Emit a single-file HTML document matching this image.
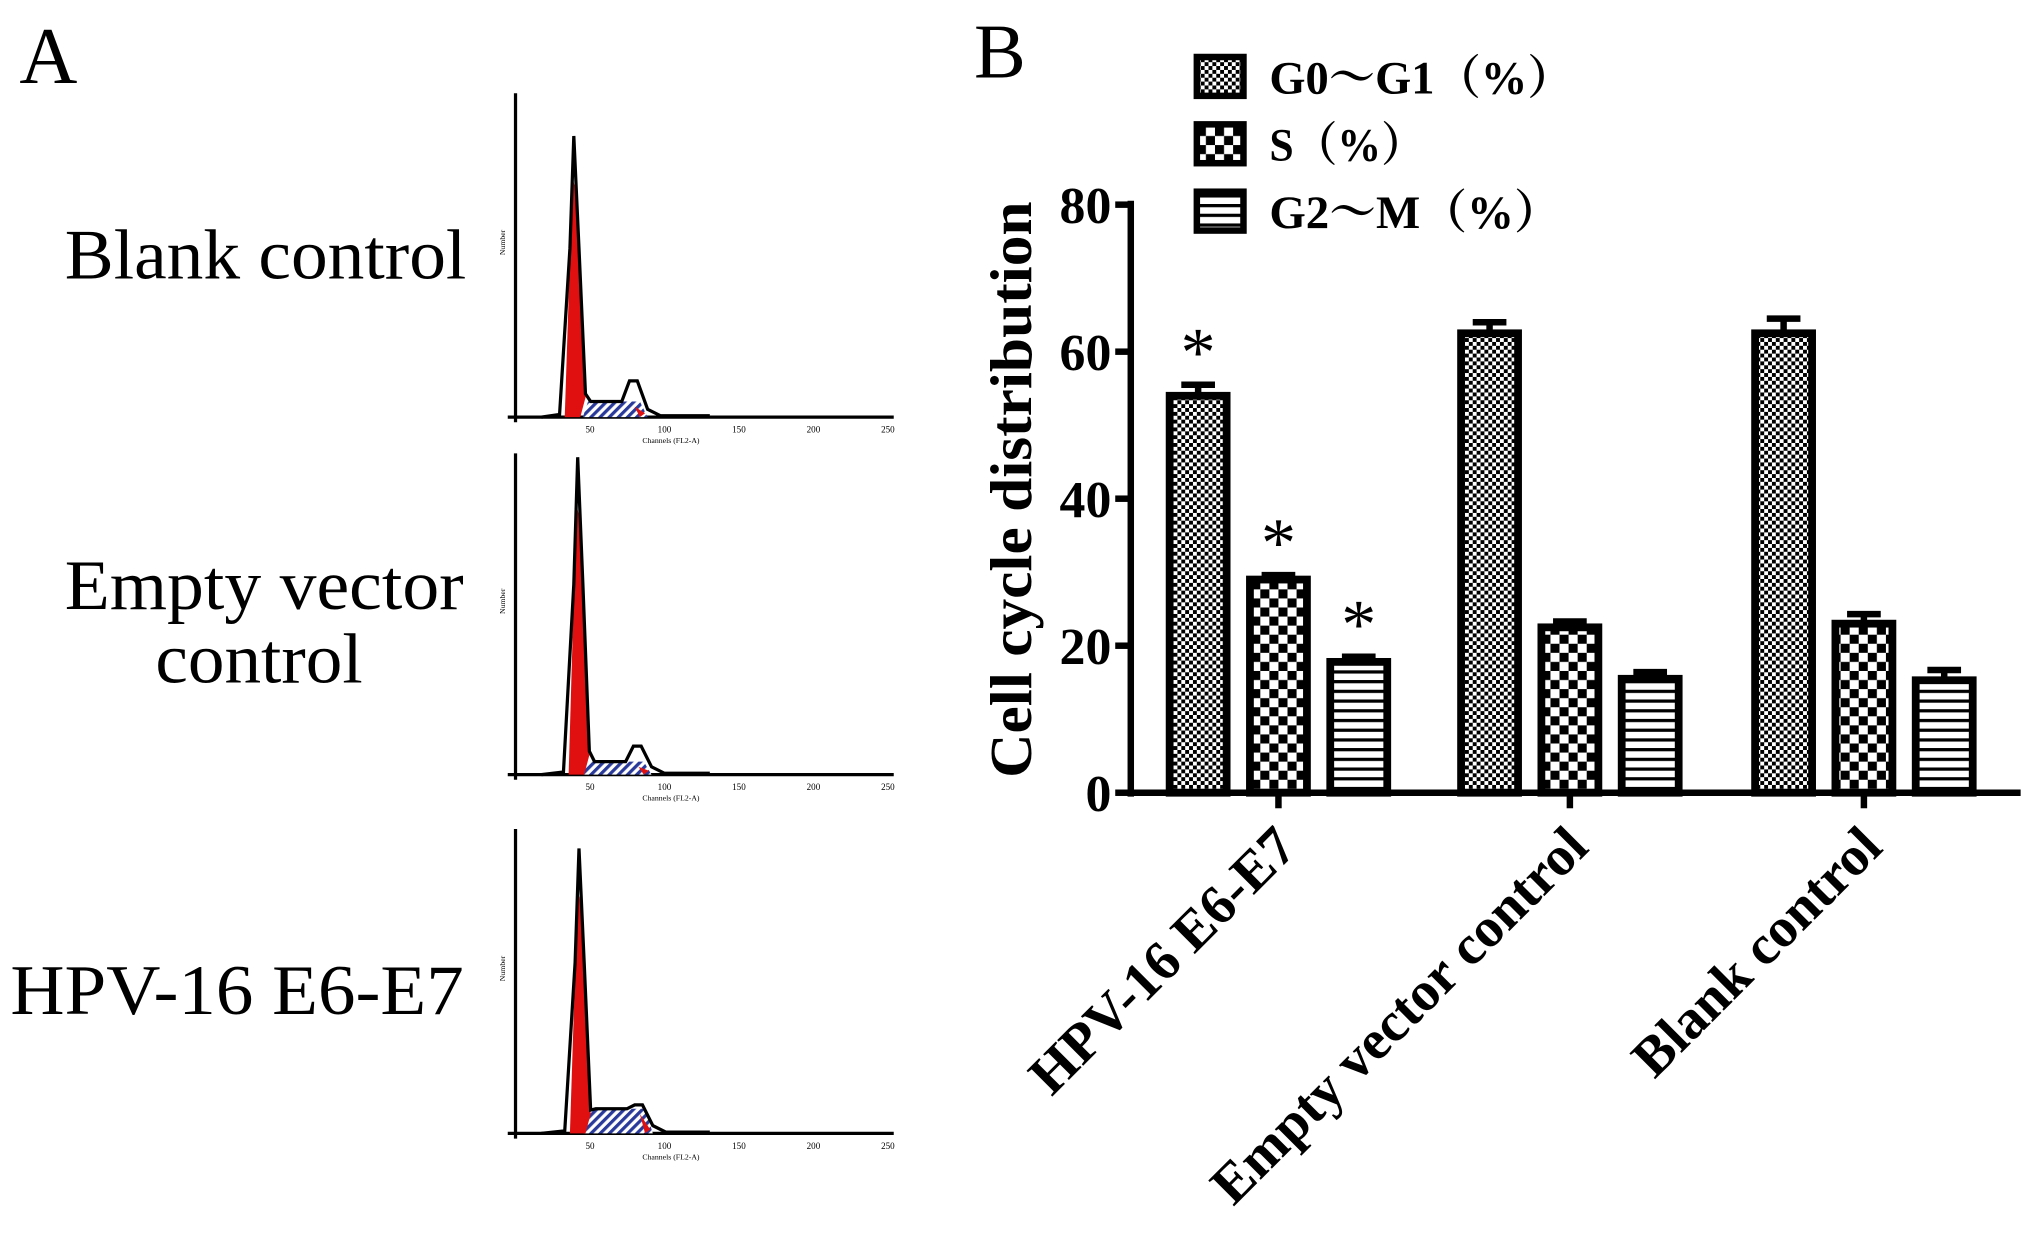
<!DOCTYPE html>
<html><head><meta charset="utf-8"><style>
html,body{margin:0;padding:0;background:#fff}
svg{display:block}
text{font-family:"Liberation Serif","Noto Serif CJK SC",serif}
</style></head><body>
<svg id="fig" width="2031" height="1240" viewBox="0 0 1568 957.3" preserveAspectRatio="none">
<defs>
<pattern id="pG0" width="6" height="6" patternUnits="userSpaceOnUse"><rect width="6" height="6" fill="#fff"/><rect width="3" height="3" fill="#000"/><rect x="3" y="3" width="3" height="3" fill="#000"/></pattern>
<pattern id="pS" width="14" height="14" patternUnits="userSpaceOnUse"><rect width="14" height="14" fill="#fff"/><rect width="7" height="7" fill="#000"/><rect x="7" y="7" width="7" height="7" fill="#000"/></pattern>
<pattern id="pG2" width="8" height="7.5" patternUnits="userSpaceOnUse"><rect width="8" height="7.5" fill="#fff"/><rect width="8" height="2.5" fill="#000"/></pattern>
<pattern id="hatch" width="5" height="5" patternUnits="userSpaceOnUse" patternTransform="rotate(45)"><rect width="5" height="5" fill="#fff"/><rect width="2.5" height="5" fill="#2a3a9a"/></pattern>
</defs>
<text x="15" y="64" font-size="62">A</text>
<text x="752" y="60" font-size="60">B</text>
<text x="50" y="215" font-size="55" textLength="310" lengthAdjust="spacingAndGlyphs">Blank control</text>
<text x="50" y="470" font-size="55" textLength="308" lengthAdjust="spacingAndGlyphs">Empty vector</text>
<text x="120" y="527" font-size="55" textLength="160" lengthAdjust="spacingAndGlyphs">control</text>
<text x="8" y="783" font-size="55" textLength="350" lengthAdjust="spacingAndGlyphs">HPV-16 E6-E7</text>
<g id="hists"></g>
<g id="chart"></g>
</svg>
<script>
const categories=["HPV-16 E6-E7","Empty vector control","Blank control"];
const seriesNames=["G0～G1（%）","S（%）","G2～M（%）"];
const g0Values=[54,62.5,62.5];
const sValues=[29,22.5,23];
const g2Values=[17.8,15.5,15.3];
const g0Err=[1.5,1.5,2];
const sErr=[0.6,0.8,1.3];
const g2Err=[0.7,0.9,1.4];
const sig=[[true,true,true],[false,false,false],[false,false,false]];
const yTicks=[0,20,40,60,80];
const NS="http://www.w3.org/2000/svg";
function mk(tag,attrs,parent){const e=document.createElementNS(NS,tag);for(const k in attrs)e.setAttribute(k,attrs[k]);parent.appendChild(e);return e;}
const chart=document.getElementById('chart');
const X0=873,Y0=612,Y80=158,XEND=1560;
function y(v){return Y0-(v-0)*(Y0-Y80)/80;}
const groupStart=[903,1128,1355],barW=44,barGap=62;
let ax=mk('line',{x1:X0,y1:Y80-3,x2:X0,y2:Y0+3,stroke:'#000','stroke-width':5},chart);

let bx=mk('line',{x1:X0-3,y1:Y0,x2:XEND,y2:Y0,stroke:'#000','stroke-width':5},chart);

yTicks.forEach(t=>{
 const l=mk('line',{x1:X0-12,y1:y(t),x2:X0,y2:y(t),stroke:'#000','stroke-width':5},chart);
 
 const tx=mk('text',{x:X0-15,y:y(t)+14,'font-size':40,'font-weight':'bold','text-anchor':'end'},chart);
 tx.textContent=t;
 
});
const yt=mk('text',{x:0,y:0,'font-size':46,'font-weight':'bold','text-anchor':'middle',textLength:445,lengthAdjust:'spacingAndGlyphs',transform:'translate(796,378) rotate(-90)'},chart);
yt.textContent='Cell cycle distribution';

const all=[g0Values,sValues,g2Values],errs=[g0Err,sErr,g2Err],fills=['url(#pG0)','url(#pS)','url(#pG2)'];
categories.forEach((c,i)=>{
 all.forEach((vals,s)=>{
  const x=groupStart[i]+s*barGap,v=vals[i],e=errs[s][i];
  const eb=mk('path',{d:`M${x+barW/2},${y(v)} V${y(v+e)} M${x+barW/2-13},${y(v+e)} H${x+barW/2+13}`,stroke:'#000','stroke-width':5,fill:'none'},chart);
  
  const r=mk('rect',{x:x,y:y(v),width:barW,height:Y0-y(v),fill:fills[s],stroke:'#000','stroke-width':6},chart);
  
  if(sig[i][s]){const st=mk('text',{x:x+barW/2,y:y(v+e)-7,'font-size':54,'text-anchor':'middle'},chart);st.textContent='*';
   }
 });
 const cx=groupStart[i]+barGap+barW/2;
 const tk=mk('line',{x1:cx,y1:Y0,x2:cx,y2:Y0+12,stroke:'#000','stroke-width':5},chart);
 
 const lb=mk('text',{x:0,y:0,'font-size':43,'font-weight':'bold','text-anchor':'end',transform:`translate(${cx+16},${Y0+44}) rotate(-45)`},chart);
 lb.textContent=c;
 
});
const legendLens=[235,120,225];
seriesNames.forEach((n,s)=>{
 const ly=44+s*52;
 const r=mk('rect',{x:924,y:ly,width:36,height:30,fill:fills[s],stroke:'#000','stroke-width':5},chart);
 
 const t=mk('text',{x:980,y:ly+28,'font-size':36,'font-weight':'bold',textLength:legendLens[s],lengthAdjust:'spacingAndGlyphs'},chart);t.textContent=n;
 
});
const hists=document.getElementById('hists');
const panels=[{x:398,b:322,t:72,pk:46,ph:217,bump:28,sh:12},{x:398,b:598,t:350,pk:49,ph:245,bump:22,sh:10},{x:398,b:875,t:640,pk:50,ph:220,bump:22,sh:19}];
panels.forEach((p,k)=>{
 const g=mk('g',{transform:`translate(${p.x},${p.b})`},hists);
 
 mk('line',{x1:0,y1:p.t-p.b,x2:0,y2:4,stroke:'#000','stroke-width':2.5},g);
 mk('line',{x1:-6,y1:0,x2:292,y2:0,stroke:'#000','stroke-width':2.5},g);
 mk('path',{d:`M52,0 L56,${-p.sh} L${p.pk+50},${-p.sh} L${p.pk+56},0 Z`,fill:'url(#hatch)'},g);
 mk('path',{d:`M${p.pk-8},0 L${p.pk-2},${-p.ph*0.85} L${p.pk+1},${-p.ph*0.8} L${p.pk+8},-15 L${p.pk+4},0 Z`,fill:'#e01010'},g);
 mk('path',{d:`M${p.pk+46},${-p.sh+4} L${p.pk+54},-3 L${p.pk+50},0 Z`,fill:'#e01010'},g);
 mk('path',{d:`M20,0 L${p.pk-12},-2 L${p.pk-4},${-p.ph*0.6} L${p.pk-1},${-p.ph} L${p.pk+3},${-p.ph*0.6} L${p.pk+8},-18 L${p.pk+12},${-p.sh} L${p.pk+36},${-p.sh} L${p.pk+42},${-p.bump} L${p.pk+48},${-p.bump} L${p.pk+56},-6 L${p.pk+66},-1 L150,-1`,fill:'none',stroke:'#000','stroke-width':2.5},g);
 [50,100,150,200,250].forEach((v,j)=>{const tx=mk('text',{x:v*1.15,y:12,'font-size':7,'text-anchor':'middle'},g);tx.textContent=v;});
 const ct=mk('text',{x:120,y:20,'font-size':6,'text-anchor':'middle'},g);ct.textContent='Channels (FL2-A)';
 const nm=mk('text',{x:0,y:0,'font-size':6,transform:`translate(-8,${(p.t-p.b)/2}) rotate(-90)`},g);nm.textContent='Number';
});
</script>
</body></html>
